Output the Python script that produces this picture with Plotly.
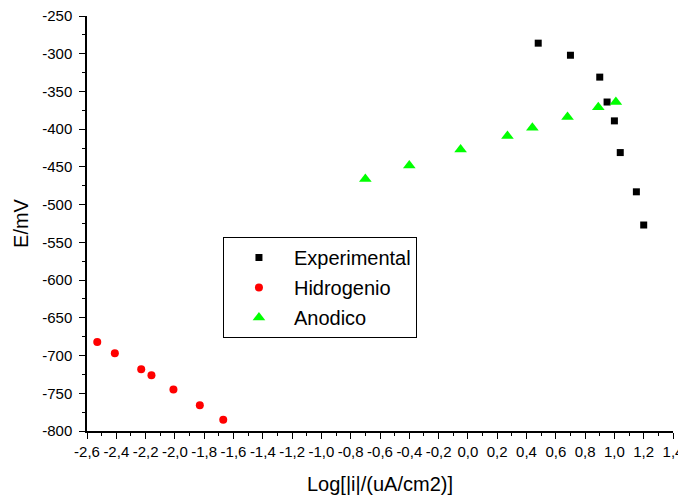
import plotly.graph_objects as go

exp_x = [0.48, 0.70, 0.90, 0.95, 1.00, 1.04, 1.15, 1.20]
exp_y = [-286, -302, -331, -364, -389, -431, -483, -527]

hid_x = [-2.53, -2.41, -2.23, -2.16, -2.01, -1.83, -1.67]
hid_y = [-682, -697, -718, -726, -745, -766, -785]

ano_x = [-0.70, -0.40, -0.05, 0.27, 0.44, 0.68, 0.89, 1.01]
ano_y = [-466, -448, -427, -409, -398, -384, -371, -364]

x_tickvals = [round(-2.6 + 0.2 * i, 1) for i in range(21)]
x_ticktext = [f"{v:.1f}".replace(".", ",").replace("-0,0", "0,0") for v in x_tickvals]
y_tickvals = list(range(-800, -249, 50))
y_ticktext = [str(v) for v in y_tickvals]

fig = go.Figure()
fig.add_trace(go.Scatter(x=exp_x, y=exp_y, mode="markers", name="Experimental",
                         legendgroup="a",
                         marker=dict(symbol="square", size=7, color="black")))
fig.add_trace(go.Scatter(x=hid_x, y=hid_y, mode="markers", name="Hidrogenio",
                         legendgroup="b",
                         marker=dict(symbol="circle", size=8, color="#ff0000")))
fig.add_trace(go.Scatter(x=ano_x, y=ano_y, mode="markers", name="Anodico",
                         legendgroup="c",
                         marker=dict(symbol="triangle-up", size=11, color="#00ff00")))

font = "Liberation Sans, Arial, sans-serif"
fig.update_layout(
    width=678, height=487,
    margin=dict(l=79, r=13, t=8, b=64),
    plot_bgcolor="white", paper_bgcolor="white",
    font=dict(family=font, color="black", size=14),
    showlegend=True,
    legend=dict(x=0.232, y=0.4675, xanchor="left", yanchor="top",
                bordercolor="black", borderwidth=1, bgcolor="white",
                font=dict(size=20, family=font), tracegroupgap=1,
                itemwidth=60),
    xaxis=dict(range=[-2.6, 1.4], tickmode="array", tickvals=x_tickvals, ticktext=x_ticktext,
               automargin=False, tickangle=0, ticklabeloverflow="allow",
               showgrid=False, zeroline=False, showline=True, linecolor="black",
               linewidth=1.5, ticks="outside", ticklen=6, tickwidth=1.2,
               tickcolor="black", tickfont=dict(size=15),
               minor=dict(dtick=0.1, tick0=-2.6, ticks="outside", ticklen=3, tickcolor="black", tickwidth=1.2),
               title=dict(text="Log[|i|/(uA/cm2)]", font=dict(size=20), standoff=18)),
    yaxis=dict(range=[-800, -250], tickmode="array", tickvals=y_tickvals, ticktext=y_ticktext,
               automargin=False, ticklabelstandoff=4, ticklabeloverflow="allow",
               showgrid=False, zeroline=False, showline=True, linecolor="black",
               linewidth=1.5, ticks="outside", ticklen=6, tickwidth=1.2,
               tickcolor="black", tickfont=dict(size=15),
               minor=dict(dtick=25, tick0=-800, ticks="outside", ticklen=3, tickcolor="black", tickwidth=1.2),
               title=dict(text="E/mV", font=dict(size=20), standoff=8)),
)
fig.write_html("out.html")
